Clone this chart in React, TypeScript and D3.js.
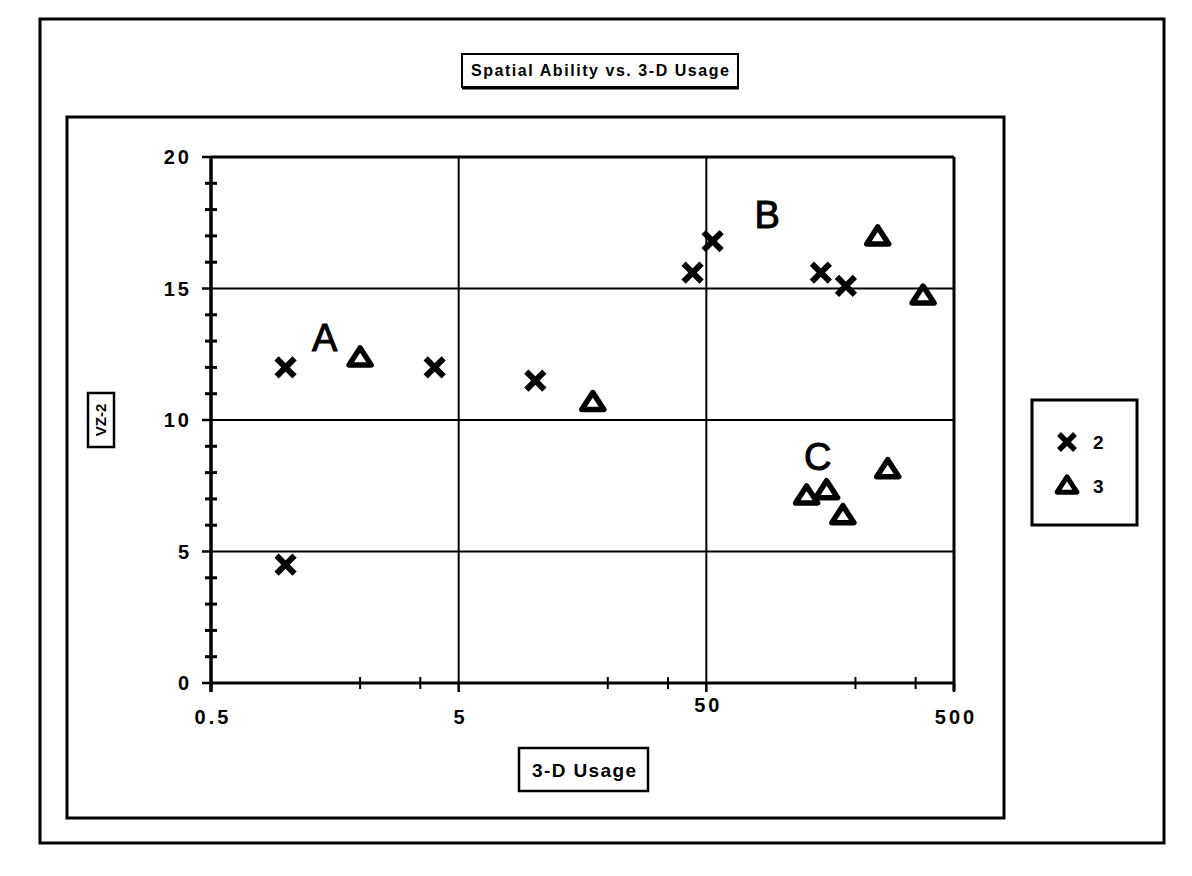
import React from 'react';
import * as d3 from 'd3';

// series "2" (x markers)
const usage2 = [1, 4, 10.2, 1, 44, 53, 145, 183];
const vz2 = [12, 12, 11.5, 4.5, 15.6, 16.8, 15.6, 15.1];
// series "3" (triangles)
const usage3 = [2, 17.4, 246, 375, 127, 153, 178, 270];
const vz3 = [12.4, 10.7, 17, 14.75, 7.15, 7.35, 6.4, 8.15];

const xTicks = [0.5, 5, 50, 500];
const xMinor = [2, 3.5, 20, 35, 200, 350];
const yTicks = [0, 5, 10, 15, 20];
const yMinor = d3.range(0, 21).filter(v => v % 5 !== 0);
const xGrid = [5, 50];
const yGrid = [5, 10, 15];

const notes = [
  { label: 'A', x: 1.44, y: 13.15 },
  { label: 'B', x: 88, y: 17.85 },
  { label: 'C', x: 141, y: 8.65 },
];

const W = 1192;
const H = 876;
const font = '"Liberation Sans", Arial, Helvetica, sans-serif';

const Cross = ({ x, y, r = 9, w = 6 }: { x: number; y: number; r?: number; w?: number }) => (
  <path
    d={`M${x - r},${y - r}L${x + r},${y + r}M${x + r},${y - r}L${x - r},${y + r}`}
    stroke="#000"
    strokeWidth={w}
    fill="none"
  />
);

const Tri = ({ x, y, s = 1 }: { x: number; y: number; s?: number }) => (
  <path
    d={`M${x},${y - 9 * s}L${x + 11 * s},${y + 8 * s}L${x - 11 * s},${y + 8 * s}Z`}
    stroke="#000"
    strokeWidth={5.5 * s}
    strokeLinejoin="round"
    fill="none"
  />
);

const App = () => {
  const x = d3.scaleLog().domain([0.5, 500]).range([211, 954]);
  const y = d3.scaleLinear().domain([0, 20]).range([683, 157]);
  const [x0, x1] = x.range();
  const [y0, y1] = y.range();

  return (
    <svg
      width={W}
      height={H}
      style={{ position: 'absolute', left: 0, top: 0, background: '#fff' }}
      fontFamily={font}
    >
      {/* outer and inner frames */}
      <rect x={40} y={19} width={1124} height={824} fill="none" stroke="#000" strokeWidth={3} />
      <rect x={67} y={117} width={937} height={701} fill="none" stroke="#000" strokeWidth={3} />

      {/* title */}
      <rect x={462} y={54} width={276} height={33} fill="#fff" stroke="#000" strokeWidth={2} />
      <line x1={462} x2={739} y1={88} y2={88} stroke="#000" strokeWidth={3} />
      <text x={600} y={76} textAnchor="middle" fontSize={16} fontWeight="bold" textLength={258}>
        Spatial Ability vs. 3-D Usage
      </text>

      {/* grid */}
      {yGrid.map(v => (
        <line key={'gy' + v} x1={x0} x2={x1} y1={y(v)} y2={y(v)} stroke="#000" strokeWidth={2} />
      ))}
      {xGrid.map(v => (
        <line key={'gx' + v} x1={x(v)} x2={x(v)} y1={y0} y2={y1} stroke="#000" strokeWidth={2} />
      ))}

      {/* plot border */}
      <line x1={x0} x2={x1} y1={y1} y2={y1} stroke="#000" strokeWidth={3} />
      <line x1={x1} x2={x1} y1={y1} y2={y0 + 8} stroke="#000" strokeWidth={3} />
      <line x1={x0} x2={x1} y1={y0} y2={y0} stroke="#000" strokeWidth={3} />
      <line x1={x0} x2={x0} y1={y1} y2={y0 + 9} stroke="#000" strokeWidth={3.5} />

      {/* y ticks */}
      {yTicks.map(v => (
        <g key={'yt' + v}>
          <line x1={x0 - 9} x2={x0} y1={y(v)} y2={y(v)} stroke="#000" strokeWidth={2.5} />
          <text
            x={192}
            y={y(v) + 7}
            textAnchor="end"
            fontSize={20}
            fontWeight="bold"
            letterSpacing={3}
          >
            {v}
          </text>
        </g>
      ))}
      {yMinor.map(v => (
        <line key={'ym' + v} x1={x0 - 6} x2={x0 + 6} y1={y(v)} y2={y(v)} stroke="#000" strokeWidth={3} />
      ))}

      {/* x ticks */}
      {xTicks.map(v => (
        <g key={'xt' + v}>
          <line x1={x(v)} x2={x(v)} y1={y0} y2={y0 + 9} stroke="#000" strokeWidth={2.5} />
          <text
            x={x(v) + 2}
            y={v === 50 ? 712 : 724}
            textAnchor="middle"
            fontSize={20}
            fontWeight="bold"
            letterSpacing={3}
          >
            {v}
          </text>
        </g>
      ))}
      {xMinor.map(v => (
        <line key={'xm' + v} x1={x(v)} x2={x(v)} y1={y0 - 6} y2={y0 + 6} stroke="#000" strokeWidth={2} />
      ))}

      {/* axis titles */}
      <rect x={519} y={748} width={129} height={43} fill="#fff" stroke="#000" strokeWidth={2.5} />
      <text x={584} y={777} textAnchor="middle" fontSize={19} fontWeight="bold" textLength={104}>
        3-D Usage
      </text>
      <rect x={88} y={393} width={26} height={54} fill="#fff" stroke="#000" strokeWidth={2.5} />
      <text
        transform={`translate(106,420) rotate(-90)`}
        textAnchor="middle"
        fontSize={15}
        fontWeight="bold"
      >
        VZ-2
      </text>

      {/* points */}
      {usage2.map((u, i) => (
        <Cross key={'s2' + i} x={x(u)} y={y(vz2[i])} />
      ))}
      {usage3.map((u, i) => (
        <Tri key={'s3' + i} x={x(u)} y={y(vz3[i])} />
      ))}

      {/* annotations */}
      {notes.map(n => (
        <text
          key={n.label}
          x={x(n.x)}
          y={y(n.y) + 14}
          textAnchor="middle"
          fontSize={38}
          stroke="#000"
          strokeWidth={1}
        >
          {n.label}
        </text>
      ))}

      {/* legend */}
      <rect x={1032} y={400} width={105} height={125} fill="#fff" stroke="#000" strokeWidth={3} />
      <Cross x={1067} y={442} r={8} w={5.5} />
      <text x={1093} y={449} fontSize={19} fontWeight="bold">2</text>
      <Tri x={1067} y={485} s={0.9} />
      <text x={1093} y={493} fontSize={19} fontWeight="bold">3</text>
    </svg>
  );
};

export default App;
